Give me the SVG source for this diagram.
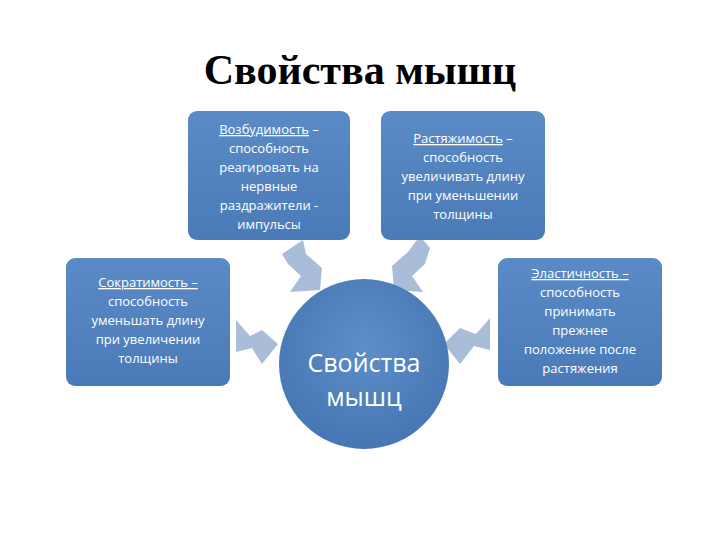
<svg xmlns="http://www.w3.org/2000/svg" width="720" height="540" viewBox="0 0 720 540">
<defs>
<linearGradient id="g" x1="0" y1="0" x2="0" y2="1"><stop offset="0" stop-color="#5a8bc6"/><stop offset="1" stop-color="#4a7bb8"/></linearGradient>
<radialGradient id="c" cx="0.5" cy="0.4" r="0.6"><stop offset="0" stop-color="#5e8fc9"/><stop offset="1" stop-color="#4676b3"/></radialGradient>
</defs>
<style>
.box{fill:url(#g);}
.t{font-family:"Open Sans","Liberation Sans",sans-serif;font-size:13px;fill:#fff;text-anchor:middle;}
.u{text-decoration:underline;}
.arr{fill:#a9bdd9;}
</style>
<rect width="720" height="540" fill="#fff"/>
<text x="360" y="84" font-family="Liberation Serif,serif" font-weight="bold" font-size="42" text-anchor="middle" fill="#000">Свойства мышц</text>
<g id="connectors">
<polygon class="arr" points="282,254 303,240 306,254 322,268 320,290 290,292 301,276 288,264"/>
<polygon class="arr" points="430,248 420,236 408,252 392,266 394,290 423,292 412,276 425,264"/>
<polygon class="arr" points="236,320 236,352 252,348 262,364 278,344 262,330 250,336"/>
<polygon class="arr" points="490,318 490,350 474,346 460,364 444,344 460,328 476,334"/>
</g>
<g id="n1"><rect class="box" x="188" y="111" width="162" height="129" rx="9"/>
<text class="t" y="134"><tspan x="269" class="u">Возбудимость</tspan> –<tspan x="269" dy="19">способность</tspan><tspan x="269" dy="19">реагировать на</tspan><tspan x="269" dy="19">нервные</tspan><tspan x="269" dy="19">раздражители  -</tspan><tspan x="269" dy="19">импульсы</tspan></text></g>
<g id="n2"><rect class="box" x="381" y="111" width="164" height="129" rx="9"/>
<text class="t" y="143"><tspan x="463" class="u">Растяжимость</tspan> –<tspan x="463" dy="19">способность</tspan><tspan x="463" dy="19">увеличивать длину</tspan><tspan x="463" dy="19">при уменьшении</tspan><tspan x="463" dy="19">толщины</tspan></text></g>
<g id="n3"><rect class="box" x="66" y="258" width="164" height="128" rx="9"/>
<text class="t" y="287"><tspan x="148" class="u">Сократимость –</tspan><tspan x="148" dy="19">способность</tspan><tspan x="148" dy="19">уменьшать длину</tspan><tspan x="148" dy="19">при увеличении</tspan><tspan x="148" dy="19">толщины</tspan></text></g>
<g id="n4"><rect class="box" x="498" y="258" width="164" height="128" rx="9"/>
<text class="t" y="278"><tspan x="580" class="u">Эластичность –</tspan><tspan x="580" dy="19">способность</tspan><tspan x="580" dy="19">принимать</tspan><tspan x="580" dy="19">прежнее</tspan><tspan x="580" dy="19">положение после</tspan><tspan x="580" dy="19">растяжения</tspan></text></g>
<g id="center"><circle cx="364" cy="364" r="85" fill="url(#c)"/>
<text class="t" style="font-size:25px" y="372"><tspan x="364">Свойства</tspan><tspan x="364" dy="34">мышц</tspan></text></g>
</svg>
